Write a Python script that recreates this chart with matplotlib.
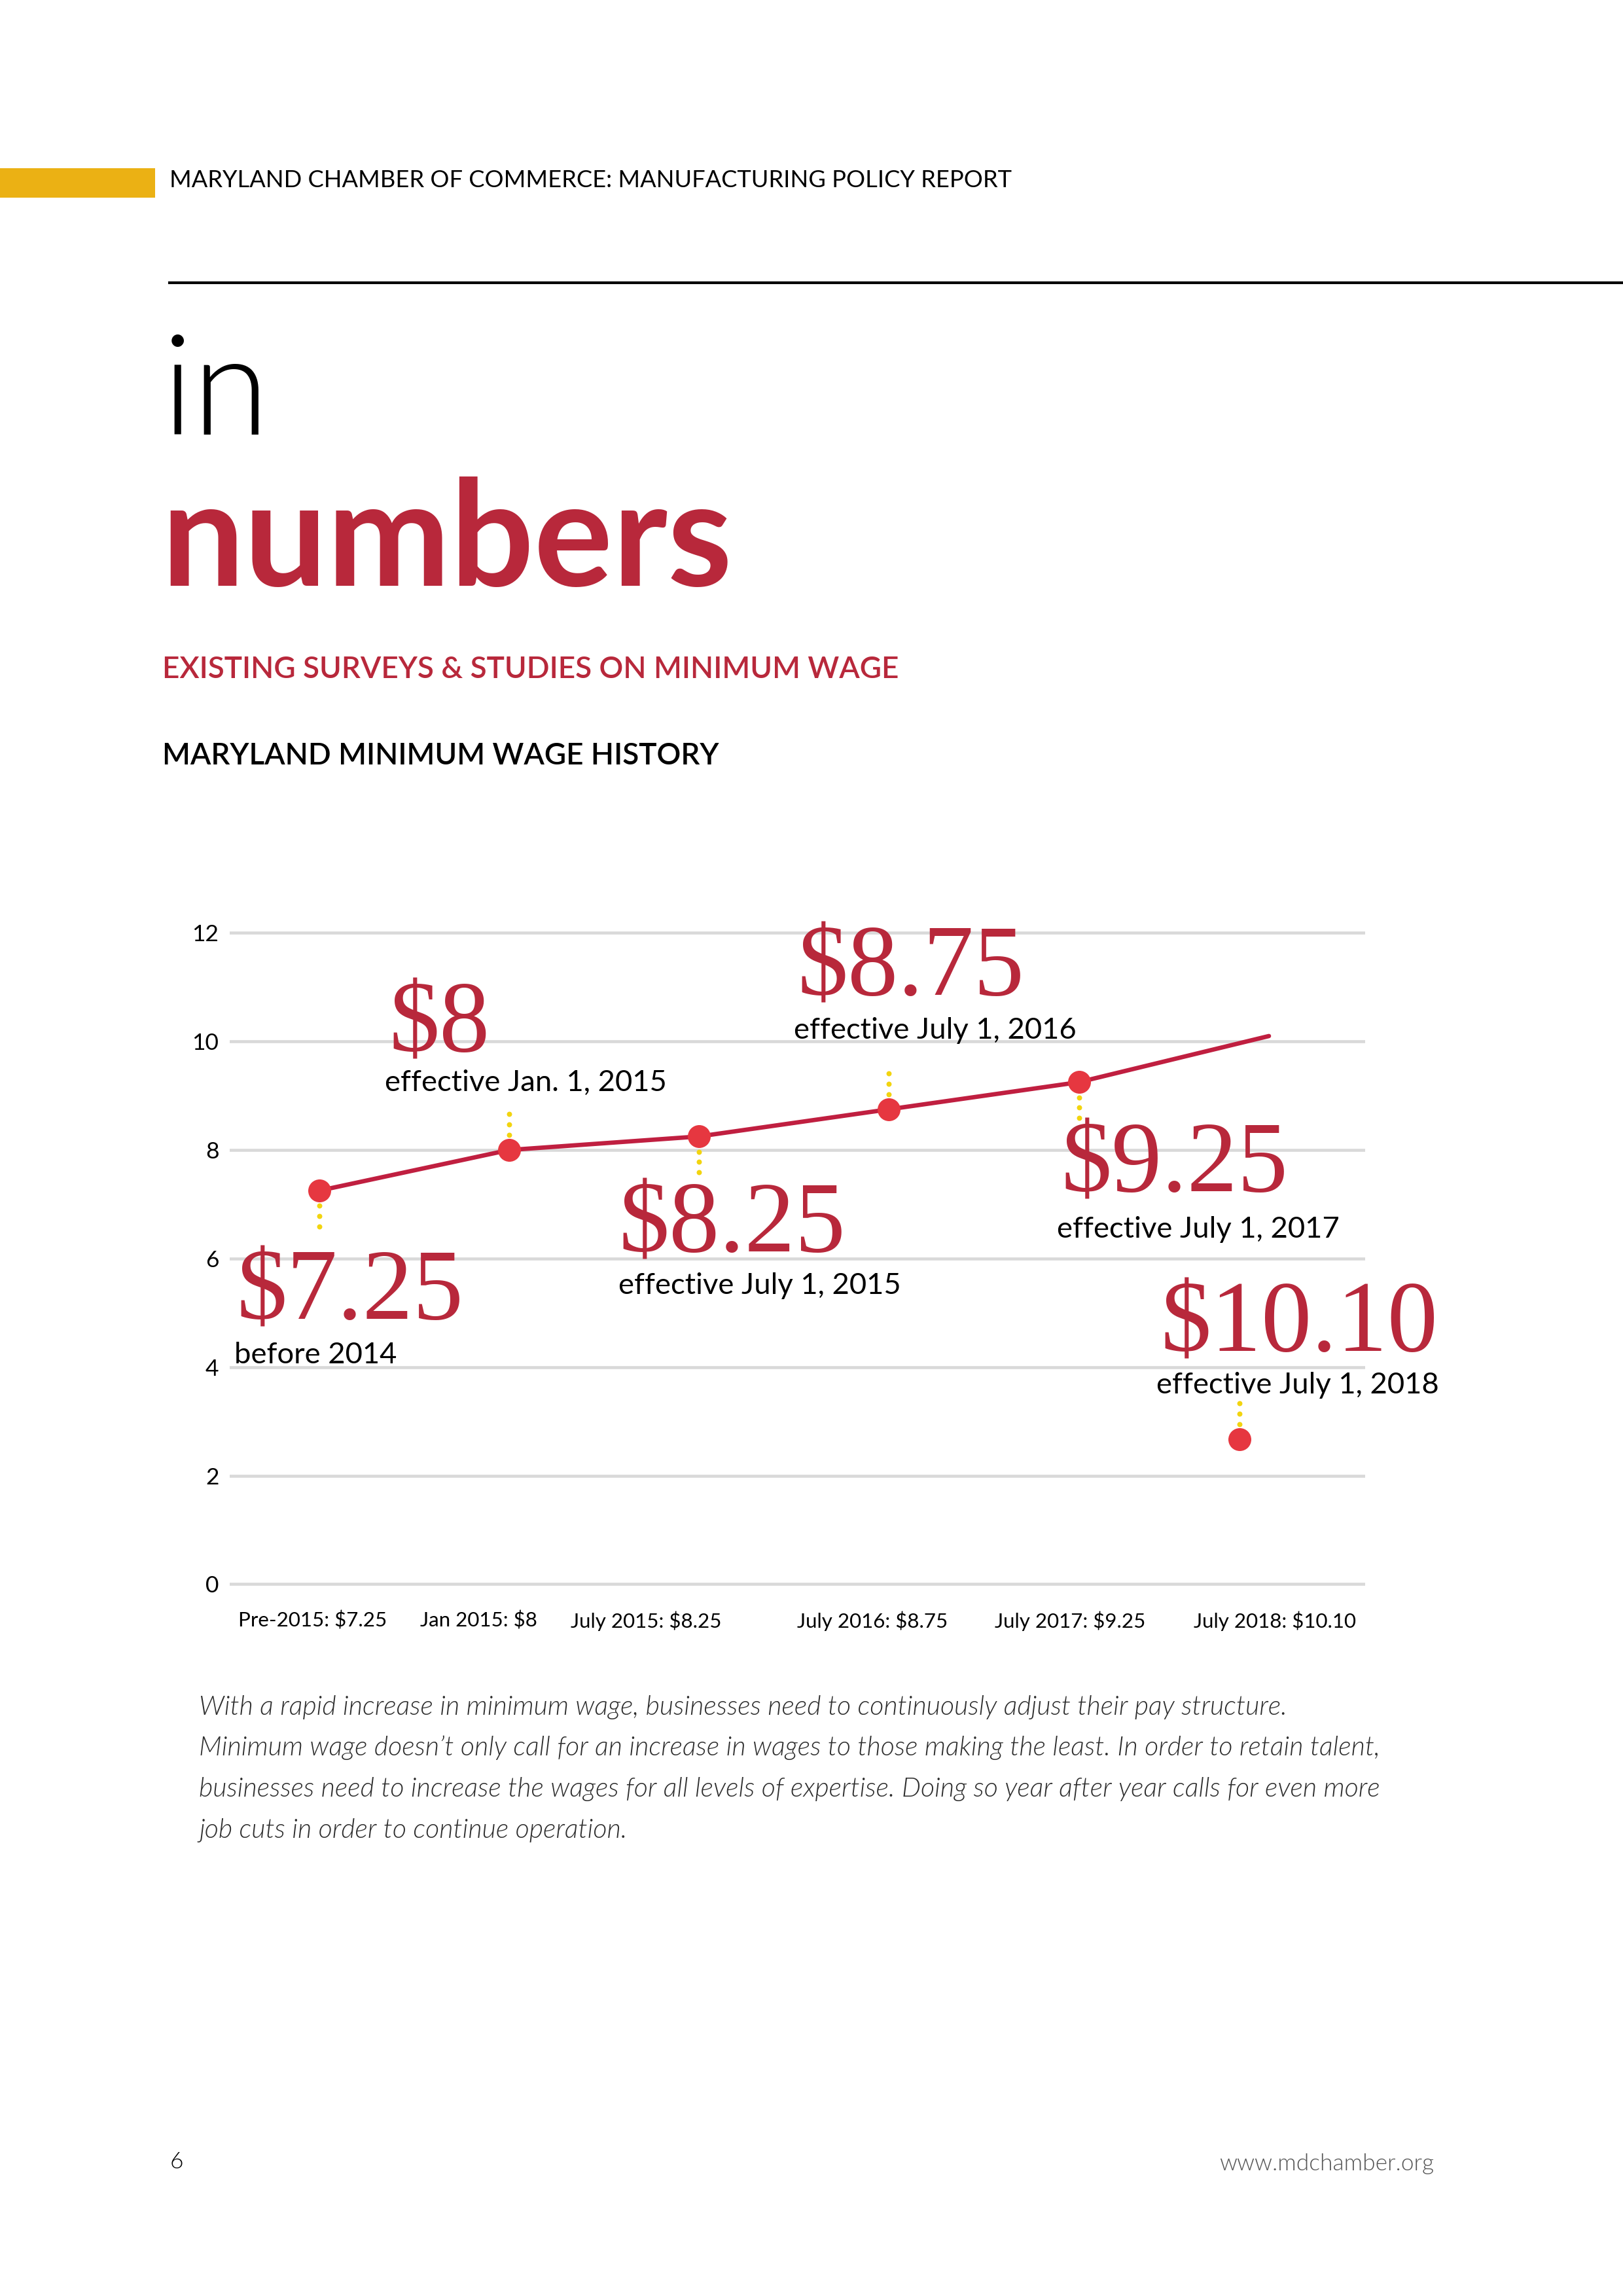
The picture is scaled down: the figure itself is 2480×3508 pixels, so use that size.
import matplotlib
matplotlib.use("Agg")
import matplotlib.pyplot as plt
from matplotlib.patches import Rectangle
from matplotlib.lines import Line2D

# data
periods = ["Pre-2015: $7.25", "Jan 2015: $8", "July 2015: $8.25",
           "July 2016: $8.75", "July 2017: $9.25", "July 2018: $10.10"]
wages = [7.25, 8.0, 8.25, 8.75, 9.25, 10.10]
price_labels = ["$7.25", "$8", "$8.25", "$8.75", "$9.25", "$10.10"]
effective_labels = ["before 2014", "effective Jan. 1, 2015", "effective July 1, 2015",
                    "effective July 1, 2016", "effective July 1, 2017", "effective July 1, 2018"]
# the lone callout dot drawn for July 2018
callout_x = [4.846]
callout_y = [2.67]
y_ticks = [0, 2, 4, 6, 8, 10, 12]

paragraph = [
    "With a rapid increase in minimum wage, businesses need to continuously adjust their pay structure.",
    "Minimum wage doesn\u2019t only call for an increase in wages to those making the least. In order to retain talent,",
    "businesses need to increase the wages for all levels of expertise. Doing so year after year calls for even more",
    "job cuts in order to continue operation.",
]

# colours
RED_TXT = "#B8283B"
RED_LINE = "#C01F40"
RED_DOT = "#E63740"
YELLOW = "#F2D40F"
GOLD = "#EBB114"
GRID = "#D9D9D9"

SANS = ["Lato", "DejaVu Sans"]
SERIF = ["Liberation Serif", "DejaVu Serif"]

W, H = 1109.0, 1568.0


def fx(x):
    return x / W


def fy(y):
    return 1 - y / H


fig = plt.figure(figsize=(2480 / 300, 3508 / 300), dpi=300)
fig.patch.set_facecolor("white")

# header
fig.add_artist(Rectangle((0, fy(135)), fx(106), (135 - 115) / H, transform=fig.transFigure,
                         color=GOLD, lw=0))
fig.text(fx(116), fy(128), "MARYLAND CHAMBER OF COMMERCE: MANUFACTURING POLICY REPORT",
         family=SANS, fontsize=8.7, color="black", va="baseline", ha="left")
fig.add_artist(Line2D([fx(116), 1.0], [fy(193), fy(193)], transform=fig.transFigure,
                      color="black", lw=1.0))

fig.text(fx(111), fy(297), "in", family=SANS, fontweight=300, fontsize=51,
         color="black", va="baseline")
fig.text(fx(110), fy(400), "numbers", family=SANS, fontweight="bold", fontsize=54,
         color=RED_TXT, va="baseline")
fig.text(fx(111), fy(463), "EXISTING SURVEYS & STUDIES ON MINIMUM WAGE", family=SANS,
         fontweight="semibold", fontsize=11, color=RED_TXT, va="baseline")
fig.text(fx(111), fy(522), "MARYLAND MINIMUM WAGE HISTORY", family=SANS,
         fontweight="semibold", fontsize=11, color="black", va="baseline")

# chart
ax = fig.add_axes([fx(157), fy(1093), (933 - 157) / W, (1093 - 626) / H])
x = list(range(len(wages)))
ax.set_xlim(-0.470, 5.508)
ax.set_ylim(-0.3, 12.3)
for yt in y_ticks:
    ax.axhline(yt, color=GRID, lw=1.1, zorder=0)
for s in ax.spines.values():
    s.set_visible(False)
ax.set_yticks(y_ticks)
ax.set_yticklabels([str(t) for t in y_ticks], family=SANS, fontsize=8.5)
tick_pos = [-0.035, 0.840, 1.722, 2.913, 3.954, 5.032]
ax.set_xticks(tick_pos)
ax.set_xticklabels(periods, family=SANS, fontsize=7.5)
ax.tick_params(length=0, pad=4)
ax.tick_params(axis="y", pad=4)

ax.plot(x, wages, color=RED_LINE, lw=1.6, solid_capstyle="round", zorder=3)
ax.plot(x[:-1], wages[:-1], "o", color=RED_DOT, ms=8.4, mew=0, zorder=4)
ax.plot(callout_x, callout_y, "o", color=RED_DOT, ms=8.4, mew=0, zorder=4)

# yellow dotted connectors (direction: -1 below the point, +1 above)
dot_dirs = [-1, 1, -1, 1, -1]
offs = [0.28, 0.47, 0.66]
for xi, yi, d in zip(x[:-1], wages[:-1], dot_dirs):
    ax.plot([xi] * 3, [yi + d * o for o in offs], "o", color=YELLOW, ms=1.9, mew=0, zorder=2)
ax.plot(callout_x * 3, [callout_y[0] + o for o in offs], "o", color=YELLOW, ms=1.9, mew=0,
        zorder=2)

# callout labels (data coords)
price_xy = [(-0.434, 4.88), (0.367, 9.82), (1.576, 6.13), (2.517, 10.85), (3.906, 7.24), (4.430, 4.29)]
eff_xy = [(-0.447, 4.07), (0.347, 9.09), (1.576, 5.35), (2.500, 10.05), (3.883, 6.39), (4.407, 3.52)]
for lab, (px, py) in zip(price_labels, price_xy):
    ax.text(px, py, lab, family=SERIF, fontsize=37, color=RED_TXT, ha="left",
            va="baseline", clip_on=False, zorder=5)
for lab, (px, py) in zip(effective_labels, eff_xy):
    ax.text(px, py, lab, family=SANS, fontsize=10.9, color="black", ha="left",
            va="baseline", clip_on=False, zorder=5)

# paragraph
for i, line in enumerate(paragraph):
    fig.text(fx(136), fy(1171 + 28 * i), line, family=SANS, fontweight=300,
             style="italic", fontsize=9.92, color="#2e2e2e", va="baseline")

# footer
fig.text(fx(116), fy(1481), "6", family=SANS, fontweight=300, fontsize=8.5,
         color="black", va="baseline")
fig.text(fx(980), fy(1482), "www.mdchamber.org", family=SANS, fontweight=300,
         fontsize=8.5, color="#555555", va="baseline", ha="right")

fig.savefig("out.png", dpi=300, facecolor="white")
